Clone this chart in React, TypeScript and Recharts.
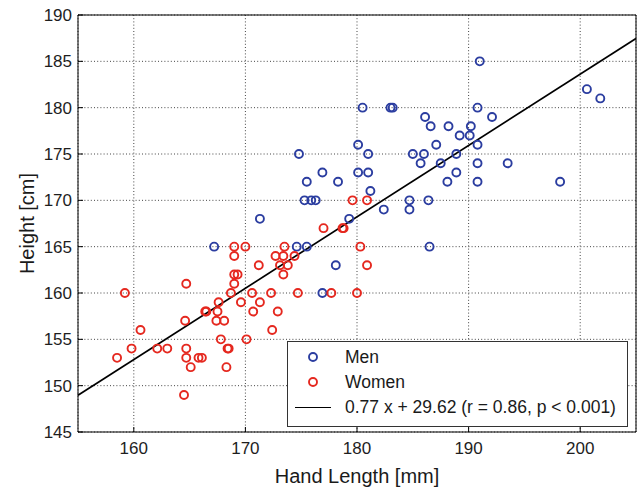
import { ScatterChart, Scatter, XAxis, YAxis, CartesianGrid, ReferenceLine, Label } from 'recharts';

const MEN_HAND = [
  174.8, 175.5, 176.9, 178.3, 175.3, 175.9, 176.3, 171.3, 179.3, 180.5,
  180.1, 180.1, 191.0, 183.0, 183.2, 190.8, 200.6, 201.8, 186.1, 192.1,
  186.6, 188.2, 190.2, 189.2, 190.1, 187.1, 190.8, 181.0, 185.0, 186.0,
  188.9, 185.7, 187.5, 190.8, 193.5, 181.0, 188.9, 188.1, 190.8, 198.2,
  181.2, 184.7, 186.4, 182.4, 184.7, 167.2, 174.6, 175.5, 178.1, 176.9,
  186.5,
];
const MEN_HEIGHT = [
  175, 172, 173, 172, 170, 170, 170, 168, 168, 180,
  176, 173, 185, 180, 180, 180, 182, 181, 179, 179,
  178, 178, 178, 177, 177, 176, 176, 175, 175, 175,
  175, 174, 174, 174, 174, 173, 173, 172, 172, 172,
  171, 170, 170, 169, 169, 165, 165, 165, 163, 160,
  165,
];

const WOMEN_HAND = [
  179.6, 180.9, 177.0, 178.7, 178.8, 169.0, 170.0, 173.5, 180.3, 169.0,
  172.7, 173.4, 174.4, 171.2, 173.1, 173.8, 180.9, 169.0, 169.3, 173.4,
  164.7, 169.0, 159.2, 168.7, 170.6, 172.3, 174.7, 177.7, 180.0, 167.6,
  169.6, 171.3, 166.4, 166.5, 167.5, 170.7, 172.9, 164.6, 167.4, 168.1,
  160.6, 172.4, 170.1, 167.8, 159.8, 162.1, 163.0, 164.7, 168.4, 168.5,
  158.5, 164.7, 165.8, 166.1, 165.1, 168.3, 164.5,
];
const WOMEN_HEIGHT = [
  170, 170, 167, 167, 167, 165, 165, 165, 165, 164,
  164, 164, 164, 163, 163, 163, 163, 162, 162, 162,
  161, 161, 160, 160, 160, 160, 160, 160, 160, 159,
  159, 159, 158, 158, 158, 158, 158, 157, 157, 157,
  156, 156, 155, 155, 154, 154, 154, 154, 154, 154,
  153, 153, 153, 153, 152, 152, 149,
];

const FIT_SLOPE = 0.77;
const FIT_INTERCEPT = 29.62;
const FIT_LABEL = '0.77 x + 29.62 (r = 0.86, p < 0.001)';

const X_DOMAIN = [155, 205];
const Y_DOMAIN = [145, 190];
const X_TICKS = [160, 170, 180, 190, 200];
const Y_TICKS = [145, 150, 155, 160, 165, 170, 175, 180, 185, 190];

const BLUE = '#2B3DA0';
const RED = '#E5281F';
const FONT = '"Liberation Sans", Arial, Helvetica, sans-serif';
const RING_R = 4;
const RING_W = 1.9;

const men = MEN_HAND.map((x, i) => ({ x, y: MEN_HEIGHT[i] }));
const women = WOMEN_HAND.map((x, i) => ({ x, y: WOMEN_HEIGHT[i] }));
const fitSegment = X_DOMAIN.map(x => ({ x, y: FIT_SLOPE * x + FIT_INTERCEPT }));

const ring = (color: string) => (props: any) => (
  <circle cx={props.cx} cy={props.cy} r={RING_R} fill="none" stroke={color} strokeWidth={RING_W} />
);

const tickStyle = { fill: '#1e1e1e', fontSize: 17, fontFamily: FONT };

function LegendBox() {
  const row = { display: 'flex', alignItems: 'center', height: 25 } as const;
  const icon = { width: 36, marginLeft: 7, marginRight: 14, display: 'flex', justifyContent: 'center' } as const;
  return (
    <div
      style={{
        position: 'absolute',
        left: 287,
        top: 341,
        width: 339,
        height: 81,
        border: '1px solid #333',
        background: '#fff',
        paddingTop: 2.5,
        boxSizing: 'content-box',
        fontFamily: FONT,
        fontSize: 17.5,
        color: '#1a1a1a',
      }}
    >
      <div style={row}>
        <span style={icon}>
          <svg width={12} height={12}><circle cx={6} cy={6} r={RING_R} fill="none" stroke={BLUE} strokeWidth={RING_W} /></svg>
        </span>
        Men
      </div>
      <div style={row}>
        <span style={icon}>
          <svg width={12} height={12}><circle cx={6} cy={6} r={RING_R} fill="none" stroke={RED} strokeWidth={RING_W} /></svg>
        </span>
        Women
      </div>
      <div style={row}>
        <span style={icon}>
          <span style={{ display: 'inline-block', width: 36, height: 0, borderTop: '1.6px solid #000' }} />
        </span>
        {FIT_LABEL}
      </div>
    </div>
  );
}

export default function App() {
  return (
    <div style={{ position: 'fixed', left: 0, top: 0, width: 638, height: 488, background: '#fff', fontFamily: FONT }}>
      <ScatterChart width={638} height={488} margin={{ top: 0, right: 0, bottom: 0, left: 0 }}>
        <CartesianGrid stroke="#444" strokeDasharray="1 2.2" />
        <XAxis
          type="number"
          dataKey="x"
          domain={X_DOMAIN}
          ticks={X_TICKS}
          height={56}
          stroke="#000"
          tickSize={-5}
          tickMargin={15}
          tick={tickStyle}
          allowDataOverflow
        >
          <Label
            content={({ viewBox }: any) => (
              <text
                x={viewBox.x + viewBox.width / 2}
                y={viewBox.y + 51}
                textAnchor="middle"
                fontSize={20}
                fontFamily={FONT}
                fill="#1a1a1a"
              >
                Hand Length [mm]
              </text>
            )}
          />
        </XAxis>
        <XAxis
          xAxisId="top"
          orientation="top"
          type="number"
          domain={X_DOMAIN}
          ticks={X_TICKS}
          height={15}
          stroke="#000"
          tickSize={-5}
          tick={false}
          allowDataOverflow
        />
        <YAxis
          type="number"
          dataKey="y"
          domain={Y_DOMAIN}
          ticks={Y_TICKS}
          width={78}
          stroke="#000"
          tickSize={-5}
          tickMargin={11}
          tick={tickStyle}
          allowDataOverflow
        >
          <Label
            content={({ viewBox }: any) => {
              const cx = viewBox.x + 34;
              const cy = viewBox.y + viewBox.height / 2;
              return (
                <text
                  x={cx}
                  y={cy}
                  transform={`rotate(-90, ${cx}, ${cy})`}
                  textAnchor="middle"
                  fontSize={20}
                  fontFamily={FONT}
                  fill="#1a1a1a"
                >
                  Height [cm]
                </text>
              );
            }}
          />
        </YAxis>
        <YAxis
          yAxisId="right"
          orientation="right"
          type="number"
          domain={Y_DOMAIN}
          ticks={Y_TICKS}
          width={2}
          stroke="#000"
          tickSize={-5}
          tick={false}
          allowDataOverflow
        />
        <ReferenceLine
          segment={fitSegment}
          stroke="#000"
          strokeWidth={1.7}
          ifOverflow="visible"
        />
        <Scatter name="Men" data={men} shape={ring(BLUE)} isAnimationActive={false} />
        <Scatter name="Women" data={women} shape={ring(RED)} isAnimationActive={false} />
      </ScatterChart>
      <LegendBox />
    </div>
  );
}
